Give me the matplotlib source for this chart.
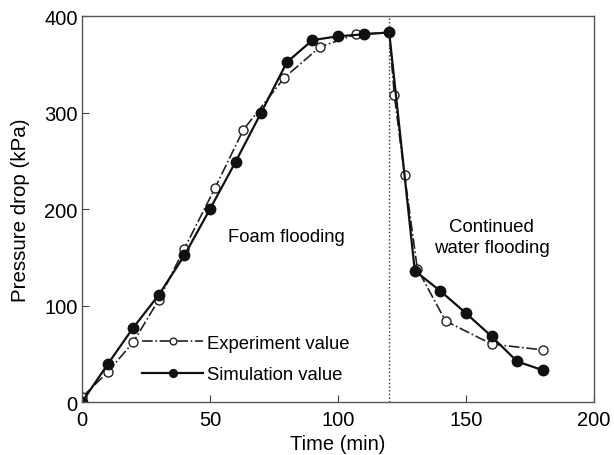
import matplotlib.pyplot as plt

plt.rcParams['font.family'] = ['Liberation Sans', 'DejaVu Sans']

# experiment data (open circles)
exp_t = [0, 10, 20, 30, 40, 52, 63, 79, 93, 107, 120, 122, 126, 131, 142, 160, 180]
exp_p = [5, 31, 62, 106, 159, 222, 282, 336, 368, 381, 383, 318, 235, 138, 84, 60, 54]

# simulation data (filled circles)
sim_t = [0, 10, 20, 30, 40, 50, 60, 70, 80, 90, 100, 110, 120, 130, 140, 150, 160, 170, 180]
sim_p = [0, 39, 77, 111, 152, 200, 249, 300, 352, 375, 379, 381, 383, 136, 115, 92, 68, 42, 33]

switch_time = 120

fig = plt.figure(figsize=(6.14, 4.56), dpi=100)
ax = fig.add_axes([0.1336, 0.1162, 0.8338, 0.8465])

ax.plot(exp_t, exp_p, linestyle='-.', color='#222222', lw=1.2,
        marker='o', markersize=6.5, markerfacecolor='white',
        markeredgecolor='#222222', markeredgewidth=1.0, label='Experiment value')
ax.plot(sim_t, sim_p, linestyle='-', color='#111111', lw=1.6,
        marker='o', markersize=7.5, markerfacecolor='#111111',
        markeredgecolor='#111111', label='Simulation value')

ax.axvline(switch_time, color='#333333', lw=1.0, linestyle=':')

ax.text(80, 171, 'Foam flooding', ha='center', va='center', fontsize=13.2)
ax.text(160, 171, 'Continued\nwater flooding', ha='center', va='center',
        fontsize=13.4, linespacing=1.3)

ax.set_xlim(0, 200)
ax.set_ylim(0, 400)
ax.set_xticks([0, 50, 100, 150, 200])
ax.set_yticks([0, 100, 200, 300, 400])
ax.tick_params(direction='in', length=5, labelsize=14.5, color='#444444')
ax.tick_params(axis='x', pad=6)
ax.tick_params(axis='y', pad=3)
for s in ax.spines.values():
    s.set_color('#555555')
    s.set_linewidth(1.0)

ax.set_xlabel('Time (min)', fontsize=14.5, labelpad=3)
ax.set_ylabel('Pressure drop (kPa)', fontsize=14.8, labelpad=10)

ax.legend(loc='lower left', bbox_to_anchor=(0.085, 0.006), frameon=False,
          fontsize=13.3, handlelength=3.3, handletextpad=0.2,
          labelspacing=0.78, markerscale=0.75)

fig.savefig('out.png', dpi=100)
